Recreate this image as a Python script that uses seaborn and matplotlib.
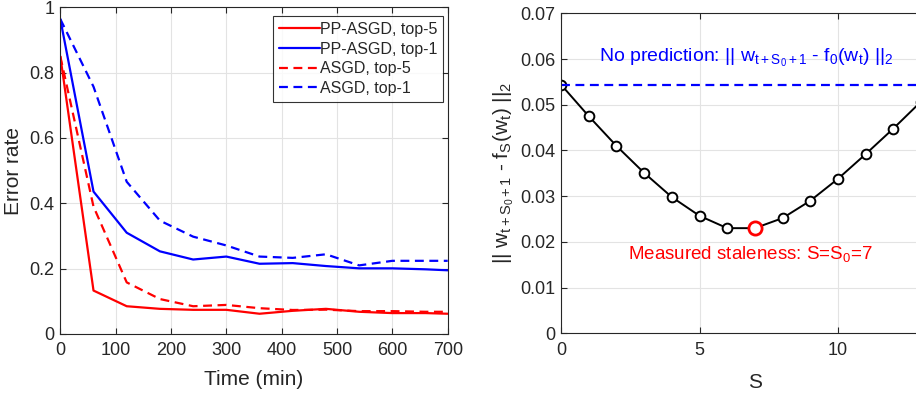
import matplotlib
matplotlib.use('Agg')
import matplotlib.pyplot as plt
import numpy as np
import pandas as pd
import seaborn as sns

# Data
time_min = [0, 60, 120, 180, 240, 300, 360, 420, 480, 540, 600, 660, 700]
pp_top5 = [0.85, 0.133, 0.085, 0.077, 0.074, 0.074, 0.062, 0.071, 0.077, 0.068, 0.064, 0.064, 0.062]
pp_top1 = [0.964, 0.436, 0.310, 0.253, 0.228, 0.237, 0.215, 0.217, 0.208, 0.201, 0.201, 0.198, 0.195]
asgd_top5 = [0.85, 0.39, 0.158, 0.107, 0.085, 0.089, 0.079, 0.0735, 0.0745, 0.070, 0.070, 0.068, 0.068]
asgd_top1 = [0.964, 0.757, 0.466, 0.347, 0.298, 0.271, 0.237, 0.233, 0.244, 0.210, 0.224, 0.224, 0.224]

s_vals = list(range(14))
dist_vals = [0.0544, 0.0475, 0.0410, 0.0351, 0.0298, 0.0257, 0.0230, 0.0230,
             0.0252, 0.0290, 0.0338, 0.0392, 0.0448, 0.0507]
no_pred = 0.0544
s0 = 7

sns.set_theme(style='whitegrid')
plt.rcParams['font.family'] = ['Liberation Sans', 'DejaVu Sans']
plt.rcParams['mathtext.fontset'] = 'custom'
plt.rcParams['mathtext.rm'] = 'Liberation Sans'
plt.rcParams['mathtext.it'] = 'Liberation Sans'
plt.rcParams['mathtext.default'] = 'regular'

W, H = 916, 394
fig = plt.figure(figsize=(W / 100, H / 100), dpi=100)
ax1 = fig.add_axes([60.3 / W, 1 - 334 / H, (447.7 - 60.3) / W, (334 - 7.3) / H])
ax2 = fig.add_axes([561 / W, 1 - 333.3 / H, 14 * 27.7 / W, (333.3 - 13.3) / H])

dash = (4, 2.5)
sns.lineplot(x=time_min, y=pp_top5, ax=ax1, color='#ff0000', lw=1.6, label='PP-ASGD, top-5')
sns.lineplot(x=time_min, y=pp_top1, ax=ax1, color='#0000ff', lw=1.6, label='PP-ASGD, top-1')
sns.lineplot(x=time_min, y=asgd_top5, ax=ax1, color='#ff0000', lw=1.6, label='ASGD, top-5')
sns.lineplot(x=time_min, y=asgd_top1, ax=ax1, color='#0000ff', lw=1.6, label='ASGD, top-1')
for ln in ax1.lines[2:4]:
    ln.set_linestyle((0, dash))

ax1.set_xlim(0, 700)
ax1.set_ylim(0, 1)
ax1.set_xticks(range(0, 701, 100))
ax1.set_yticks([0, 0.2, 0.4, 0.6, 0.8, 1])
ax1.set_yticklabels(['0', '0.2', '0.4', '0.6', '0.8', '1'])
ax1.set_xlabel('Time (min)', fontsize=15, labelpad=8)
ax1.set_ylabel('Error rate', fontsize=15, labelpad=5)
leg = ax1.legend(loc='upper right', bbox_to_anchor=(0.988, 0.973), fontsize=11.5,
                 frameon=True, fancybox=False, handlelength=2.6, handletextpad=0.0,
                 borderpad=0.35, labelspacing=0.3, borderaxespad=0.0)
leg.get_frame().set_edgecolor('black')
leg.get_frame().set_linewidth(0.8)
for ln in leg.get_lines()[2:4]:
    ln.set_linestyle((0, dash))

sns.lineplot(x=s_vals, y=dist_vals, ax=ax2, color='black', lw=1.4, marker='o',
             markersize=7, markerfacecolor='white', markeredgecolor='black',
             markeredgewidth=1.4)
ax2.plot([s_vals[s0]], [dist_vals[s0]], 'o', ms=9.5, mfc='white', mec='#ff0000', mew=2.0, zorder=5)
ax2.axhline(no_pred, color='#0000ff', lw=1.6, linestyle=(0, dash))
ax2.text(6.7, 0.0594, r'No prediction: || w$_{t+S_0+1}$ - f$_0$(w$_t$) ||$_2$',
         color='#0000ff', fontsize=14, ha='center', va='baseline')
ax2.text(6.85, 0.0162, r'Measured staleness: S=S$_0$=7',
         color='#ff0000', fontsize=13.5, ha='center', va='baseline')
ax2.set_xlim(0, 14)
ax2.set_ylim(0, 0.07)
ax2.set_xticks([0, 5, 10])
yt = [0, 0.01, 0.02, 0.03, 0.04, 0.05, 0.06, 0.07]
ax2.set_yticks(yt)
ax2.set_yticklabels(['0'] + ['%.2f' % v for v in yt[1:]])
ax2.set_xlabel('S', fontsize=15, labelpad=10)
ax2.set_ylabel(r'|| w$_{t+S_0+1}$ - f$_S$(w$_t$) ||$_2$', fontsize=15, labelpad=3)

for ax in (ax1, ax2):
    ax.set_facecolor('white')
    ax.grid(True, color='#e3e3e3', lw=0.8)
    for sp in ax.spines.values():
        sp.set_visible(True)
        sp.set_color('#262626')
        sp.set_linewidth(0.8)
    ax.tick_params(axis='both', which='both', direction='in', length=4, width=0.8,
                   labelsize=13, colors='#262626', top=True, right=True, bottom=True, left=True)
    ax.tick_params(axis='x', pad=6)
    ax.tick_params(axis='y', pad=4)

fig.savefig('out.png', dpi=100, facecolor='white')
